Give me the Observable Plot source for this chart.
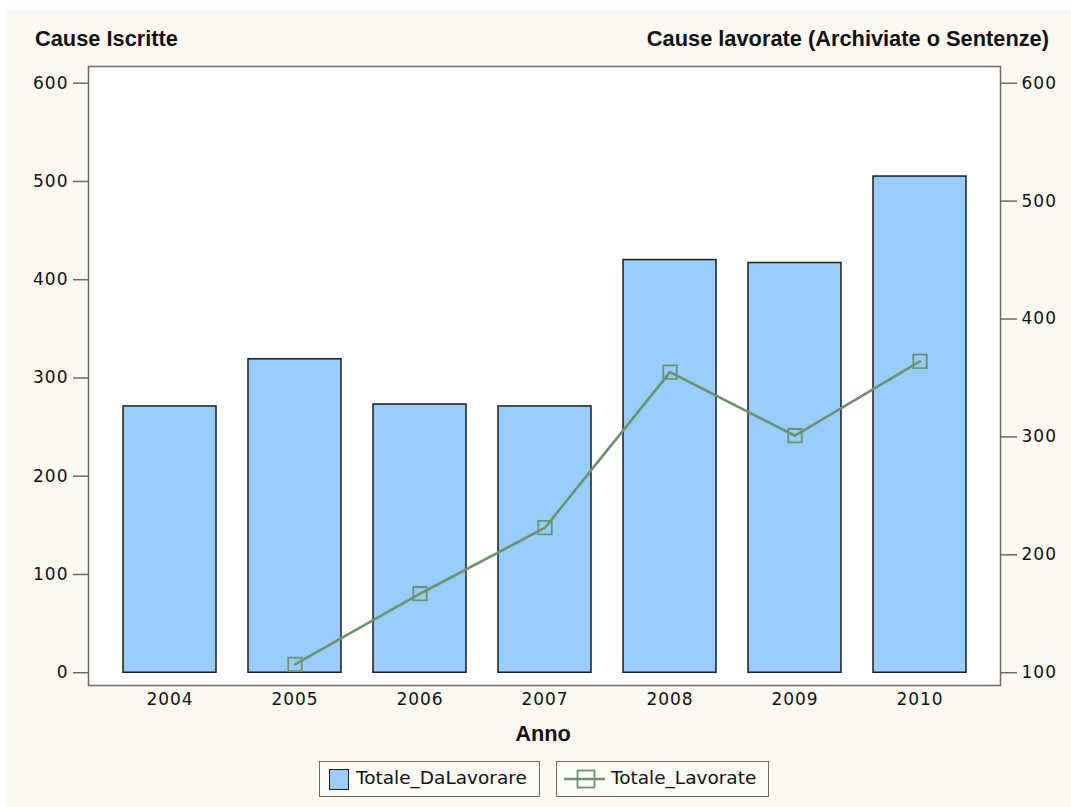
<!DOCTYPE html>
<html>
<head>
<meta charset="utf-8">
<script src="https://cdn.jsdelivr.net/npm/d3@7"></script>
<script src="https://cdn.jsdelivr.net/npm/@observablehq/plot@0.6"></script>
<style>
  body { margin: 0; background: #ffffff; }
  #wrap { position: relative; width: 1071px; height: 807px; overflow: hidden; }
  #bg { position: absolute; left: 7px; top: 10px; right: 0; bottom: 0; background: #FCF9F2; }
  #chart { position: absolute; left: 0; top: 0; }
  #chart svg text { letter-spacing: 1px; }
  .bold { position: absolute; font-family: "Liberation Sans", Arial, sans-serif; font-weight: bold;
          font-size: 21.8px; line-height: 21.8px; color: #111; white-space: nowrap; }
  .lgbox { position: absolute; top: 761px; height: 34px; border: 1.5px solid #6f6a5d; background: #FDFBF6; box-sizing: content-box; }
  .lgtext { position: absolute; font-family: "DejaVu Sans", sans-serif; font-size: 18.5px; line-height: 18.5px; color: #111; white-space: nowrap; }
</style>
</head>
<body>
<div id="wrap">
  <div id="bg"></div>
  <div id="chart"></div>
  <div class="bold" id="tl" style="left:35px; top:28px;"></div>
  <div class="bold" id="tr" style="right:22px; top:28px;"></div>
  <div class="bold" id="xl" style="left:543px; top:723px; transform:translateX(-50%);"></div>
  <div class="lgbox" style="left:319px; width:219px;"></div>
  <div class="lgbox" style="left:556px; width:211px;"></div>
  <div style="position:absolute; left:329px; top:769px; width:18px; height:19px; background:#99CCFF; border:1.5px solid #1c1c1c;"></div>
  <svg style="position:absolute; left:560px; top:765px;" width="50" height="30">
    <line x1="4" y1="14" x2="45" y2="14" stroke="#6E9270" stroke-width="2.6"></line>
    <rect x="17.5" y="5.5" width="17" height="17" fill="none" stroke="#6E9270" stroke-width="1.8"></rect>
  </svg>
  <div class="lgtext" id="lg1" style="left:356px; top:769px;"></div>
  <div class="lgtext" id="lg2" style="left:611px; top:769px;"></div>
</div>
<script>
// ---- data ----
const years = ["2004", "2005", "2006", "2007", "2008", "2009", "2010"];
const totaleDaLavorare = [271, 319, 273, 271, 420, 417, 505];
const totaleLavorate = [null, 107, 167, 223, 355, 301, 364];
const leftTicks = [0, 100, 200, 300, 400, 500, 600];
const rightTicks = [100, 200, 300, 400, 500, 600];
const leftTitle = "Cause Iscritte";
const rightTitle = "Cause lavorate (Archiviate o Sentenze)";
const xTitle = "Anno";
const seriesNames = ["Totale_DaLavorare", "Totale_Lavorate"];

document.getElementById("tl").textContent = leftTitle;
document.getElementById("tr").textContent = rightTitle;
document.getElementById("xl").textContent = xTitle;
document.getElementById("lg1").textContent = seriesNames[0];
document.getElementById("lg2").textContent = seriesNames[1];

// right axis (100..600) mapped onto the left scale (0..600)
const toLeft = r => (r - 100) * 1.2;
const fromLeft = v => Math.round(v / 1.2 + 100);

const bars = years.map((y, i) => ({year: y, v: totaleDaLavorare[i]}));
const pts = years.map((y, i) => ({year: y, r: totaleLavorate[i]})).filter(d => d.r != null);

const green = "#6E9270";
const axisColor = "#6f6a5d";

const chart = Plot.plot({
  width: 1071,
  height: 720,
  marginLeft: 88,
  marginRight: 71,
  marginTop: 66,
  marginBottom: 35,
  style: {background: "transparent", fontFamily: "DejaVu Sans, sans-serif", fontSize: "17px", color: "#111"},
  x: {domain: years, paddingInner: 0.255, paddingOuter: 0.1275, insetLeft: 19.5, insetRight: 17.5, label: null},
  y: {domain: [-13, 617], label: null},
  marks: [
    Plot.frame({fill: "white", stroke: "none"}),
    Plot.barY(bars, {x: "year", y: "v", fill: "#99CCFF", stroke: "#1c1c1c", strokeWidth: 1.5}),
    Plot.line(pts, {x: "year", y: d => toLeft(d.r), stroke: green, strokeWidth: 2.6}),
    Plot.dot(pts, {x: "year", y: d => toLeft(d.r), symbol: "square", r: 7.6, stroke: green, fill: "none", strokeWidth: 1.8}),
    Plot.axisY(leftTicks, {anchor: "left", tickSize: 15, tickPadding: 5, stroke: axisColor, strokeWidth: 1.5, fill: "#111", fontSize: 17, label: null}),
    Plot.axisY(rightTicks.map(toLeft), {anchor: "right", tickSize: 16, tickPadding: 5, tickFormat: fromLeft, stroke: axisColor, strokeWidth: 1.5, fill: "#111", fontSize: 17, label: null}),
    Plot.axisX({tickSize: 0, tickPadding: 7, fill: "#111", fontSize: 17, label: null}),
    Plot.frame({stroke: axisColor, strokeWidth: 1.5})
  ]
});
document.getElementById("chart").appendChild(chart);
</script>
</body>
</html>
